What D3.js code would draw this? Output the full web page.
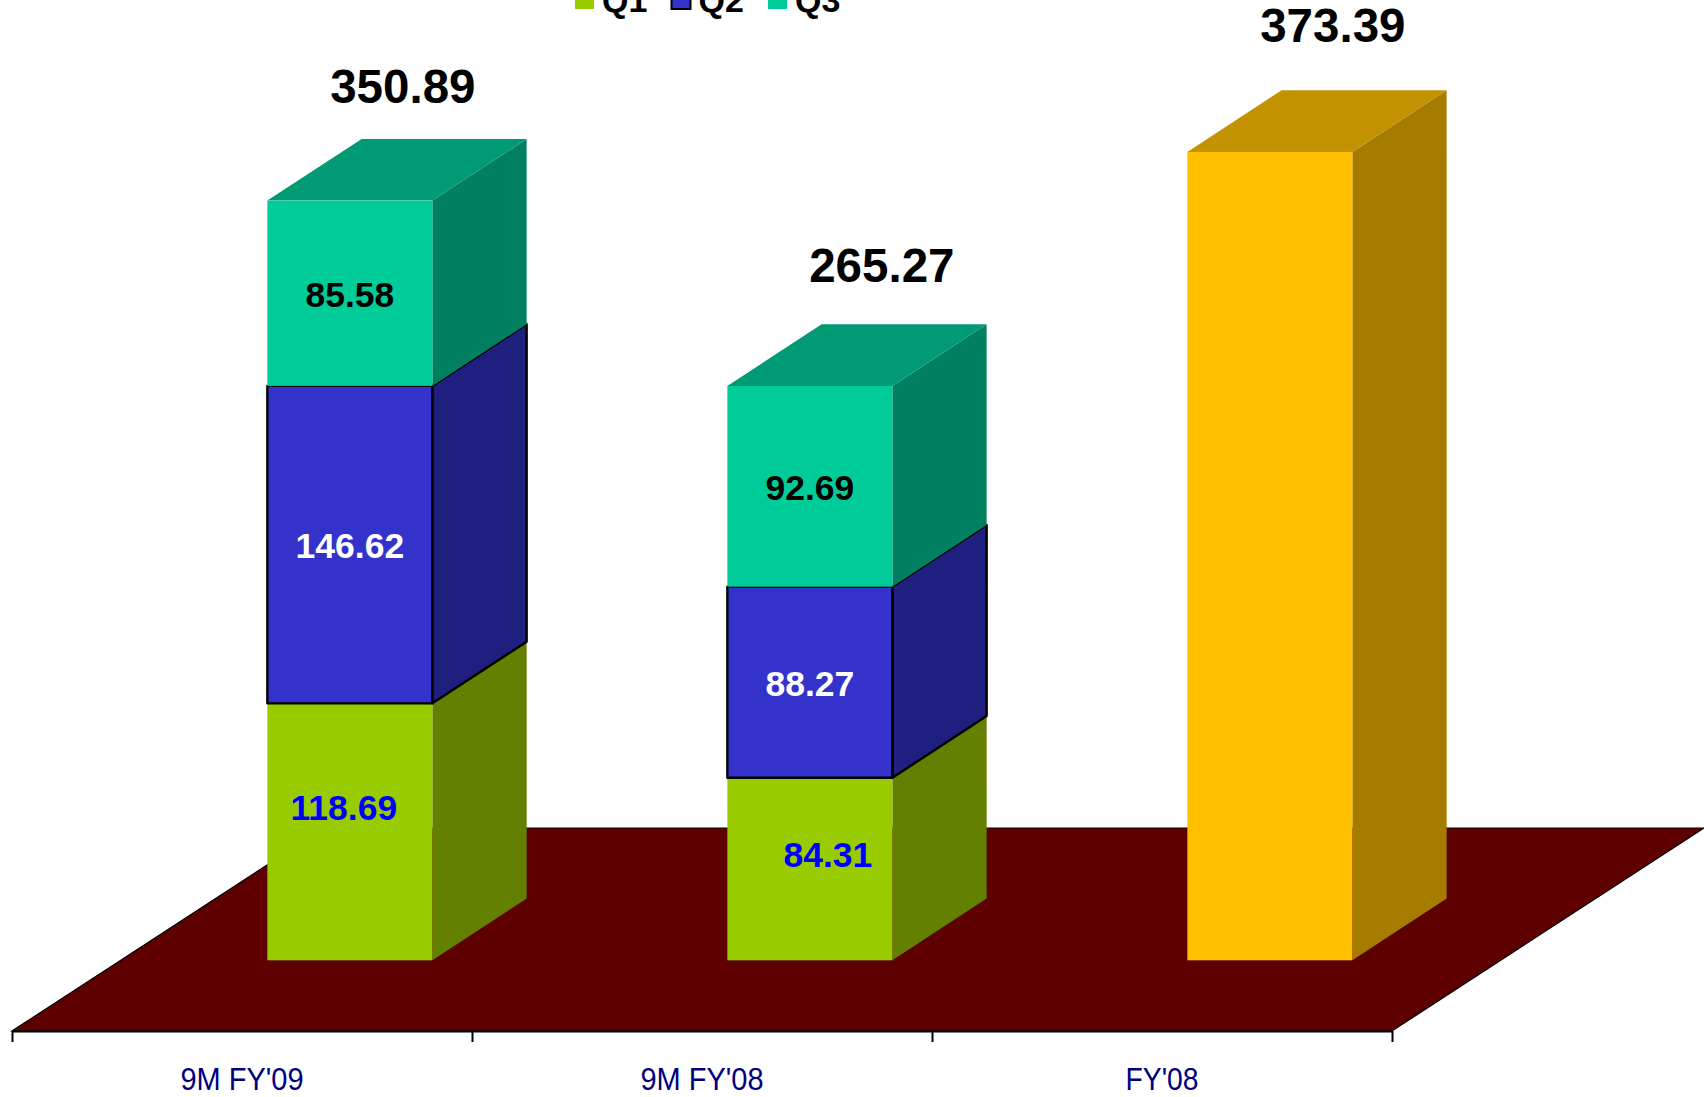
<!DOCTYPE html>
<html><head><meta charset="utf-8">
<script src="https://cdn.jsdelivr.net/npm/d3@7"></script>
<style>html,body{margin:0;padding:0;background:#fff;overflow:hidden}svg{display:block}text{font-family:"Liberation Sans",Arial,sans-serif;font-weight:700}</style>
</head><body><svg id="c" width="1704" height="1097"></svg>
<script>
const categories = ["9M FY'09", "9M FY'08", "FY'08"];
const seriesNames = ["Q1", "Q2", "Q3", "FY"];
const q1 = [118.69, 84.31, 0];
const q2 = [146.62, 88.27, 0];
const q3 = [85.58, 92.69, 0];
const fy = [0, 0, 373.39];
const totals = [350.89, 265.27, 373.39];
const legendNames = ["Q1", "Q2", "Q3"];

const styles = {
  Q1: {front: "#99cc00", side: "#648000", top: "#7aa300", text: "#0000ff"},
  Q2: {front: "#3333cc", side: "#1f1f80", top: "#2929a3", text: "#ffffff", stroke: "#000"},
  Q3: {front: "#00cc99", side: "#008060", top: "#009b74", text: "#000000"},
  FY: {front: "#ffc000", side: "#a67c00", top: "#c29200", text: "#000000"}
};
// hand-placed label offsets, as in the reference
const nudge = {"Q1|0": [-6, -25], "Q1|1": [18, -15]};
const totalNudge = [[53, -115], [72, -121], [63, -127]];

const svg = d3.select("#c");
const floorFront = 1031, floorDX = 312, floorDY = 203, depthDX = 94.3, depthDY = 61.7, barW = 165;
const x = d3.scaleBand().domain(categories).range([12, 1392]);
const y = d3.scaleLinear().domain([0, 400]).range([960.3, 94.3]);
const barLeft = c => x(c) + x.bandwidth() / 2 + floorDX / 2 - depthDX / 2 - barW / 2 - 1;

const rows = categories.map((c, i) => ({c, Q1: q1[i], Q2: q2[i], Q3: q3[i], FY: fy[i]}));
const stacked = d3.stack().keys(seriesNames)(rows);

// floor
const L = x.range()[0], R = x.range()[1];
const poly = pts => pts.map(p => p.join(",")).join(" ");
svg.append("polygon")
  .attr("points", poly([[L, floorFront], [R, floorFront], [R + floorDX, floorFront - floorDY], [L + floorDX, floorFront - floorDY]]))
  .attr("fill", "#5f0000").attr("stroke", "#000").attr("stroke-width", 1.2);

// axis
const edgeScale = d3.scaleLinear().domain([0, categories.length]).range([L, R]);
const axisG = svg.append("g").attr("transform", `translate(0,${floorFront})`)
  .call(d3.axisBottom(edgeScale).ticks(categories.length).tickSize(11).tickSizeOuter(0).tickFormat(""));
axisG.selectAll("line,path").attr("stroke", "#000").attr("stroke-width", 2);

svg.selectAll("text.cat").data(categories).join("text").attr("class", "cat")
  .attr("x", d => x(d) + x.bandwidth() / 2).attr("y", 1090)
  .attr("text-anchor", "middle")
  .attr("textLength", d => d === "FY'08" ? 73 : 123).attr("lengthAdjust", "spacingAndGlyphs")
  .style("font-family", '"Liberation Sans Narrow","Liberation Sans",sans-serif')
  .style("font-weight", 400).style("font-size", "32px").attr("fill", "#000080")
  .text(d => d);

// bars, bottom to top
stacked.forEach(layer => {
  const st = styles[layer.key];
  layer.forEach((d, i) => {
    if (d[1] - d[0] <= 0) return;
    const c = categories[i], x0 = barLeft(c), x1 = x0 + barW, yb = y(d[0]), yt = y(d[1]);
    const g = svg.append("g").attr("stroke", st.stroke || "none").attr("stroke-width", st.stroke ? 2.4 : 0).attr("stroke-linejoin", "round");
    g.append("polygon").attr("fill", st.side)
      .attr("points", poly([[x1, yb], [x1 + depthDX, yb - depthDY], [x1 + depthDX, yt - depthDY], [x1, yt]]));
    if (!st.stroke) g.append("polygon").attr("fill", st.top)
      .attr("points", poly([[x0, yt], [x1, yt], [x1 + depthDX, yt - depthDY], [x0 + depthDX, yt - depthDY]]));
    g.append("rect").attr("x", x0).attr("y", yt).attr("width", barW).attr("height", yb - yt).attr("fill", st.front);
  });
});

// value labels
stacked.forEach(layer => {
  if (layer.key === "FY") return;
  const st = styles[layer.key];
  layer.forEach((d, i) => {
    if (d[1] - d[0] <= 0) return;
    const n = nudge[layer.key + "|" + i] || [0, 1];
    svg.append("text")
      .attr("x", barLeft(categories[i]) + barW / 2 + n[0])
      .attr("y", (y(d[0]) + y(d[1])) / 2 + n[1])
      .attr("dy", "0.36em").attr("text-anchor", "middle")
      .style("font-size", "35.5px").attr("fill", st.text)
      .text((d[1] - d[0]).toFixed(2));
  });
});

// totals
svg.selectAll("text.total").data(totals).join("text").attr("class", "total")
  .attr("x", (d, i) => barLeft(categories[i]) + barW / 2 + totalNudge[i][0])
  .attr("y", (d, i) => y(d) + totalNudge[i][1])
  .attr("dy", "0.36em").attr("text-anchor", "middle")
  .style("font-size", "47.5px").attr("fill", "#000")
  .text(d => d.toFixed(2));

// legend
const legendX = d3.scalePoint().domain(legendNames).range([575, 768]);
const lg = svg.selectAll("g.lg").data(legendNames).join("g").attr("class", "lg")
  .attr("transform", d => `translate(${legendX(d)},0)`);
lg.append("rect").attr("x", 0).attr("y", -11).attr("width", 19).attr("height", 20)
  .attr("fill", d => styles[d].front)
  .attr("stroke", d => styles[d].stroke || "none").attr("stroke-width", 2);
lg.append("text").attr("x", 27).attr("y", 12).style("font-size", "34px").attr("fill", "#000").text(d => d);
</script></body></html>
